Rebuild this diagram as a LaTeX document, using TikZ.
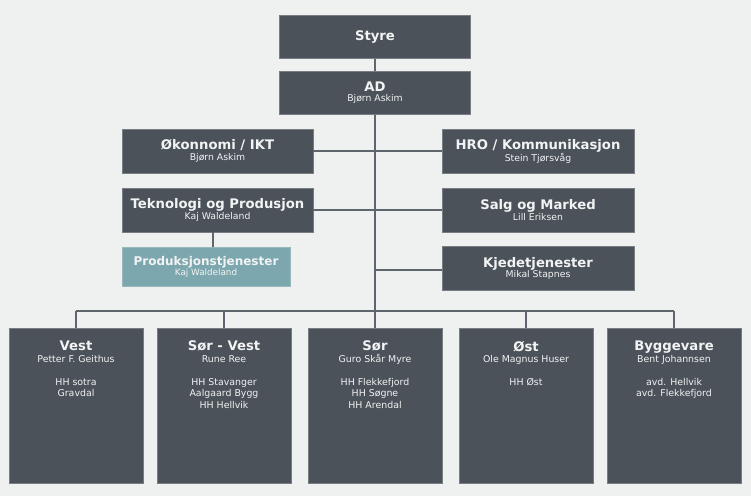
\documentclass[tikz,border=0pt]{standalone}
\usepackage{fontspec}
\setmainfont{DejaVu Sans}
\usetikzlibrary{positioning}

\definecolor{bgcol}{HTML}{EFF0F0}
\definecolor{boxcol}{HTML}{4B525A}
\definecolor{tealcol}{HTML}{7DA7AE}
\definecolor{linecol}{HTML}{5F656C}
\definecolor{txtcol}{HTML}{F2F3F3}

\newcommand{\ttl}[1]{{\fontsize{13.2}{12}\selectfont\bfseries #1}}

\begin{document}
\begin{tikzpicture}[x=1pt, y=-1pt,
    box/.style={draw=boxcol!75!white, line width=0.5pt, fill=boxcol, text=txtcol,
      inner sep=0pt, align=center, font=\fontsize{9.3}{10.5}\selectfont},
    topbox/.style={box, minimum width=191pt, minimum height=43.5pt},
    leftbox/.style={box, minimum width=191pt, minimum height=44pt},
    rightbox/.style={box, minimum width=192pt, minimum height=44pt},
    unitbox/.style={box, minimum width=134pt, minimum height=155pt},
    unittxt/.style={text=txtcol, inner sep=0pt, align=center, font=\fontsize{9.4}{11.5}\selectfont},
    lnk/.style={draw=linecol, line width=1.1pt}]

      % Background
      \fill[bgcol] (0,0) rectangle (751,496);

      % Top
      \node[topbox] (styre) at (375,36.7) {\ttl{Styre}};
      \node[topbox] (ad) at (375,92.5) {\ttl{AD}\\Bjørn Askim};

      % Staff left
      \node[leftbox] (oko) at (217.5,151) {\ttl{Økonnomi / IKT}\\Bjørn Askim};
      \node[leftbox] (tek) at (217.5,210) {\ttl{Teknologi og Produsjon}\\Kaj Waldeland};
      \node[box, fill=tealcol, draw=tealcol!80!white, minimum width=168pt, minimum height=39pt,
        font=\fontsize{8.8}{10}\selectfont] (prod) at (206,266.5)
        {{\fontsize{12}{11}\selectfont\bfseries Produksjonstjenester}\\Kaj Waldeland};

      % Staff right
      \node[rightbox] (hro) at (538,151) {\ttl{HRO / Kommunikasjon}\\Stein Tjørsvåg};
      \node[rightbox] (salg) at (538,210) {\ttl{Salg og Marked}\\Lill Eriksen};
      \node[rightbox] (kjede) at (538,268.5) {\ttl{Kjedetjenester}\\Mikal Stapnes};

      % Regions
      \node[unitbox] (vest) at (76,405.5) {};
      \node[unitbox] (sorvest) at (224,405.5) {};
      \node[unitbox] (sor) at (375,405.5) {};
      \node[unitbox] (ost) at (526,405.5) {};
      \node[unitbox] (bygg) at (674,405.5) {};

      \node[unittxt, below=13pt of vest.north] (vesttxt)
        {\ttl{Vest}\\Petter F. Geithus\\[11.5pt]HH sotra\\Gravdal};
      \node[unittxt, below=13pt of sorvest.north] (sorvesttxt)
        {\ttl{Sør - Vest}\\Rune Ree\\[11.5pt]HH Stavanger\\Aalgaard Bygg\\HH Hellvik};
      \node[unittxt, below=13pt of sor.north] (sortxt)
        {\ttl{Sør}\\Guro Skår Myre\\[11.5pt]HH Flekkefjord\\HH Søgne\\HH Arendal};
      \node[unittxt, below=13pt of ost.north] (osttxt)
        {\ttl{Øst}\\Ole Magnus Huser\\[11.5pt]HH Øst};
      \node[unittxt, below=13pt of bygg.north] (byggtxt)
        {\ttl{Byggevare}\\Bent Johannsen\\[11.5pt]avd. Hellvik\\avd. Flekkefjord};

      % Connectors
      \coordinate (bus) at (375,311);
      \draw[lnk] (styre) -- (ad);
      \draw[lnk] (ad) -- (bus);
      \draw[lnk] (oko) -- (hro);
      \draw[lnk] (tek) -- (salg);
      \draw[lnk] ([yshift=-1.5pt]kjede.west) -- ([yshift=-1.5pt]kjede.west -| ad);
      \draw[lnk] ([xshift=-4.5pt]tek.south) -- ([xshift=-4.5pt]tek.south |- prod.north);
      \draw[lnk] (vest.north |- bus) -- (bygg.north |- bus);
      \foreach \u in {vest,sorvest,sor,ost,bygg}
        \draw[lnk] (\u.north) -- (\u.north |- bus);

\end{tikzpicture}
\end{document}
